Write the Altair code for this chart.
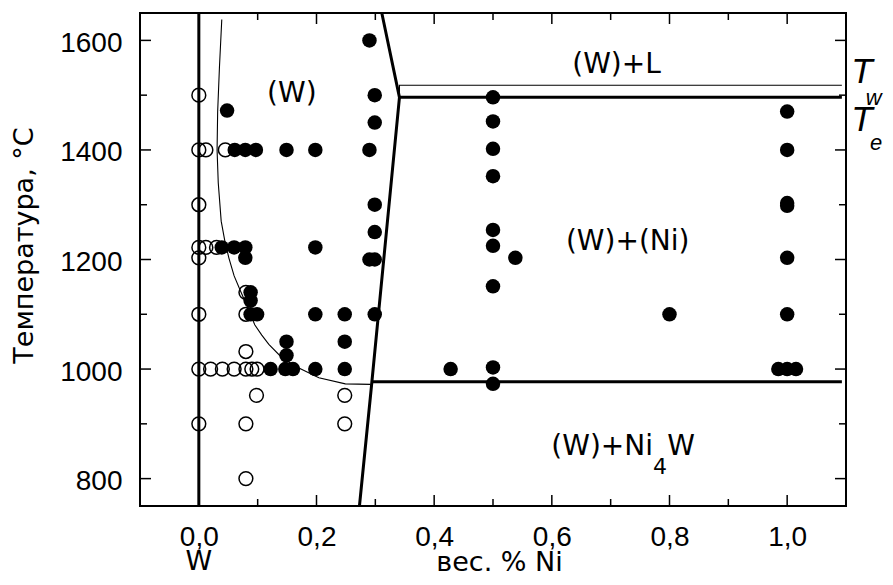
import altair as alt
import pandas as pd

# ---------------- data ----------------
open_x = [0.0, 0.0, 0.012, 0.045, 0.0, 0.0, 0.012, 0.03, 0.0, 0.08, 0.0, 0.08,
          0.0, 0.02, 0.04, 0.06, 0.08, 0.09, 0.099, 0.08, 0.098, 0.248, 0.0, 0.08, 0.248, 0.08]
open_t = [1500, 1400, 1400, 1400, 1300, 1222, 1222, 1222, 1203, 1140, 1100, 1100,
          1000, 1000, 1000, 1000, 1000, 1000, 1000, 1032, 952, 952, 900, 900, 900, 800]

fill_x = [0.048, 0.061, 0.079, 0.097, 0.149, 0.198, 0.29,
          0.29, 0.299, 0.299, 0.299, 0.299, 0.29, 0.299,
          0.039, 0.06, 0.079, 0.198, 0.079,
          0.088, 0.088, 0.088, 0.099, 0.198, 0.248, 0.299,
          0.149, 0.248, 0.149,
          0.122, 0.147, 0.16, 0.198, 0.248, 0.428,
          0.5, 0.5, 0.5, 0.5, 0.5, 0.5, 0.538, 0.5, 0.5, 0.5,
          0.8,
          1.0, 1.0, 1.0, 1.0, 1.0, 1.0, 0.985, 1.0, 1.015]
fill_t = [1472, 1400, 1400, 1400, 1400, 1400, 1400,
          1600, 1500, 1450, 1300, 1250, 1200, 1200,
          1222, 1222, 1222, 1222, 1203,
          1140, 1125, 1100, 1100, 1100, 1100, 1100,
          1050, 1050, 1025,
          1000, 1000, 1000, 1000, 1000, 1000,
          1496, 1452, 1402, 1352, 1254, 1225, 1203, 1151, 1003, 973,
          1100,
          1470, 1400, 1303, 1298, 1203, 1100, 1000, 1000, 1000]

# solvus (thin curve)
solvus_x = [0.039, 0.035, 0.032, 0.031, 0.033, 0.038, 0.044, 0.051, 0.060, 0.071,
            0.084, 0.095, 0.107, 0.119, 0.140, 0.164, 0.204, 0.249, 0.292]
solvus_t = [1638, 1550, 1470, 1400, 1340, 1270, 1235, 1203, 1170, 1142,
            1110, 1081, 1062, 1045, 1022, 1005, 984, 973, 972]

# thick phase boundaries
w_line_x = [0.0, 0.0]
w_line_t = [750, 1650]
bound_x = [0.311, 0.341, 0.294, 0.273]
bound_t = [1650, 1496, 975, 750]
te_x = [0.341, 1.093]
te_t = [1496, 1496]
eut_x = [0.294, 1.093]
eut_t = [977, 977]
# thin T_w line
tw_x = [0.341, 0.341, 1.093]
tw_t = [1496, 1518, 1518]

x_major = [0.0, 0.2, 0.4, 0.6, 0.8, 1.0]
x_minor = [0.1, 0.3, 0.5, 0.7, 0.9]
y_major = [800, 1000, 1200, 1400, 1600]
y_minor = [900, 1100, 1300, 1500]

region_text = ["(W)", "(W)+L", "(W)+(Ni)"]
region_x = [0.158, 0.710, 0.729]
region_t = [1503, 1555, 1232]

W, H = 706, 493
FONT = "Liberation Sans"
TFONT = "DejaVu Sans"

xs = alt.Scale(domain=[-0.1, 1.1], nice=False, zero=False)
ys = alt.Scale(domain=[750, 1650], nice=False, zero=False)

xaxis = alt.Axis(values=x_major, ticks=False, domain=False, grid=False,
                 labelExpr="replace(format(datum.value, '.1f'), '.', ',')",
                 labelFont=FONT, labelFontSize=28, labelColor="black",
                 labelPadding=17, title="вес. % Ni", titleFont=TFONT,
                 titleFontSize=27, titleFontWeight="normal", titleColor="black",
                 titleX=359, titleY=56, titleBaseline="middle", titleAlign="center",
                 titleAnchor="start")
yaxis = alt.Axis(values=y_major, ticks=False, domain=False, grid=False, format="d",
                 labelFont=FONT, labelFontSize=28, labelColor="black",
                 labelPadding=18, labelOffset=3, title="Температура, °C", titleFont=TFONT,
                 titleFontSize=27, titleFontWeight="normal", titleColor="black",
                 titleAngle=-90, titleX=-116, titleY=232, titleBaseline="middle",
                 titleAlign="center", titleAnchor="start")


def X(f):
    return alt.X(f, type="quantitative", scale=xs, axis=xaxis)


def Y(f):
    return alt.Y(f, type="quantitative", scale=ys, axis=yaxis)


def line_df(name, xv, tv):
    return pd.DataFrame({"s": name, "o": list(range(len(xv))), "x": xv, "t": tv})


thick_df = pd.concat([line_df("w", w_line_x, w_line_t), line_df("b", bound_x, bound_t),
                      line_df("te", te_x, te_t), line_df("eu", eut_x, eut_t)])
thin_df = pd.concat([line_df("sol", solvus_x, solvus_t), line_df("tw", tw_x, tw_t)])

thin = alt.Chart(thin_df).mark_line(color="black", strokeWidth=1.1).encode(
    x=X("x"), y=Y("t"), detail="s:N", order="o:Q")
thick = alt.Chart(thick_df).mark_line(color="black", strokeWidth=3).encode(
    x=X("x"), y=Y("t"), detail="s:N", order="o:Q")

opens = alt.Chart(pd.DataFrame({"x": open_x, "t": open_t})).mark_point(
    shape="circle", filled=False, size=190, color="black", strokeWidth=1.5, opacity=1
).encode(x=X("x"), y=Y("t"))
fills = alt.Chart(pd.DataFrame({"x": fill_x, "t": fill_t})).mark_circle(
    size=210, color="black", opacity=1).encode(x=X("x"), y=Y("t"))

regions = alt.Chart(pd.DataFrame({"x": region_x, "t": region_t, "txt": region_text})).mark_text(
    font=TFONT, fontSize=28, color="black", align="center", baseline="middle"
).encode(x=X("x"), y=Y("t"), text="txt:N")

ni4w_main = alt.Chart(pd.DataFrame({"x": [0.772], "t": [858], "txt": ["(W)+Ni"]})).mark_text(
    font=TFONT, fontSize=28, color="black", align="right", baseline="middle"
).encode(x=X("x"), y=Y("t"), text="txt:N")
ni4w_sub = alt.Chart(pd.DataFrame({"x": [0.784], "t": [822], "txt": ["4"]})).mark_text(
    font=TFONT, fontSize=22, color="black", align="center", baseline="middle"
).encode(x=X("x"), y=Y("t"), text="txt:N")
ni4w_w = alt.Chart(pd.DataFrame({"x": [0.796], "t": [858], "txt": ["W"]})).mark_text(
    font=TFONT, fontSize=28, color="black", align="left", baseline="middle"
).encode(x=X("x"), y=Y("t"), text="txt:N")

t_big = alt.Chart(pd.DataFrame({"x": [1.127, 1.127], "t": [1543, 1455], "txt": ["T", "T"]})).mark_text(
    font=FONT, fontSize=35, fontStyle="italic", color="black", align="center", baseline="middle"
).encode(x=X("x"), y=Y("t"), text="txt:N")
t_sub = alt.Chart(pd.DataFrame({"x": [1.147, 1.151], "t": [1495, 1412], "txt": ["w", "e"]})).mark_text(
    font=FONT, fontSize=22, fontStyle="italic", color="black", align="center", baseline="middle"
).encode(x=X("x"), y=Y("t"), text="txt:N")

w_lab = alt.Chart(pd.DataFrame({"x": [0.0], "txt": ["W"]})).mark_text(
    font=TFONT, fontSize=27, color="black", align="center", baseline="middle"
).encode(x=X("x"), y=alt.value(H + 56), text="txt:N")

# inward ticks on all four sides
def xticks(vals, ln):
    d = pd.DataFrame({"v": vals})
    b = alt.Chart(d).mark_rule(color="black", strokeWidth=1.5).encode(
        x=X("v"), y=alt.value(H), y2=alt.value(H - ln))
    t = alt.Chart(d).mark_rule(color="black", strokeWidth=1.5).encode(
        x=X("v"), y=alt.value(0), y2=alt.value(ln))
    return [b, t]


def yticks(vals, ln):
    d = pd.DataFrame({"v": vals})
    l = alt.Chart(d).mark_rule(color="black", strokeWidth=1.5).encode(
        y=Y("v"), x=alt.value(0), x2=alt.value(ln))
    r = alt.Chart(d).mark_rule(color="black", strokeWidth=1.5).encode(
        y=Y("v"), x=alt.value(W), x2=alt.value(W - ln))
    return [l, r]


ticks = xticks(x_major, 11) + xticks(x_minor, 7) + yticks(y_major, 11) + yticks(y_minor, 7)

chart = alt.layer(
    opens, *ticks, thin, thick, fills, regions, ni4w_main, ni4w_sub, ni4w_w, t_big, t_sub, w_lab
).properties(
    width=W, height=H,
    autosize=alt.AutoSizeParams(type="none"),
    padding={"left": 132, "top": 5, "right": 39, "bottom": 66},
    background="white",
).configure_view(stroke="black", strokeWidth=2)

chart.save("out.html", embed_options={"renderer": "svg", "actions": False})
